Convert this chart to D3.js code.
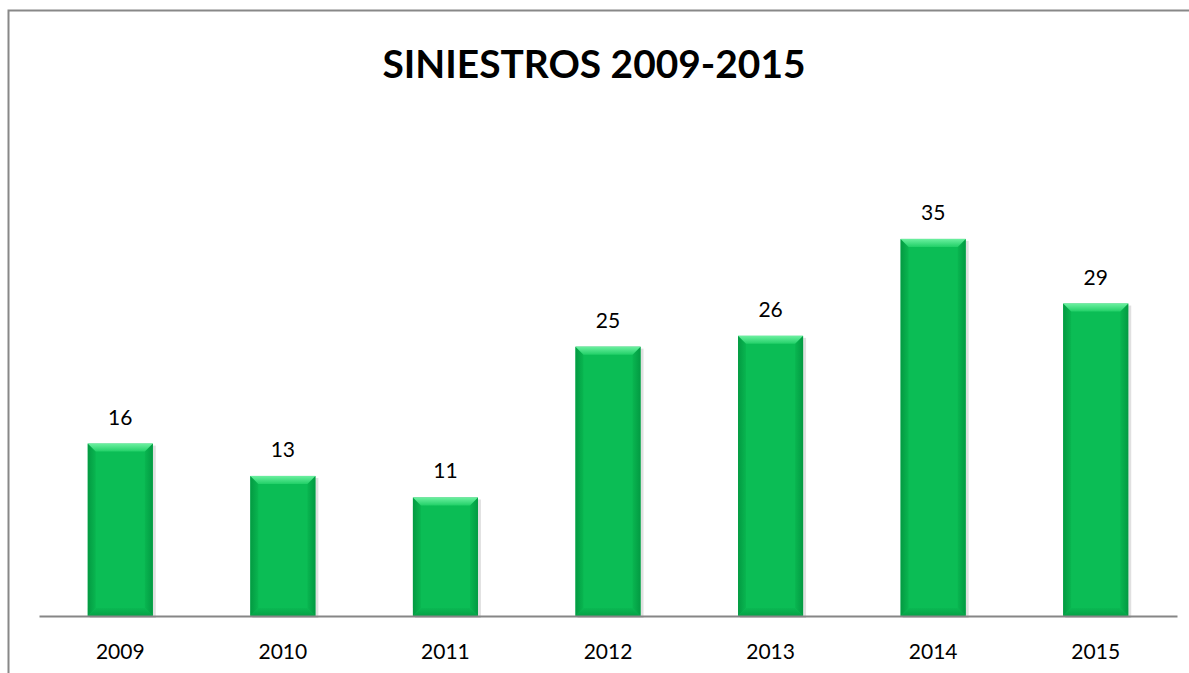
<!DOCTYPE html>
<html>
  <head>
    <meta charset='UTF-8'>
    <style>
    body { margin: 0; background: #fff; overflow: hidden; }
    svg { display: block; }
    text { font-family: Lato, 'Open Sans', sans-serif; fill: #000; }
    </style>
  </head>
  <body>
  <script src='https://cdnjs.cloudflare.com/ajax/libs/d3/7.8.5/d3.min.js'></script>
  <script>

    var years = ['2009', '2010', '2011', '2012', '2013', '2014', '2015'];
    var siniestros = [16, 13, 11, 25, 26, 35, 29];
    var titulo = 'SINIESTROS 2009-2015';

    var W = 1189, H = 673;

    var svg = d3.select('body')
      .append('svg')
      .attr('width', W)
      .attr('height', H);

    var defs = svg.append('defs');

    var gTop = defs.append('linearGradient').attr('id', 'gtop')
      .attr('x1', 0).attr('y1', 0).attr('x2', 0).attr('y2', 1);
    gTop.append('stop').attr('offset', '0%').attr('stop-color', '#6cf0a0');
    gTop.append('stop').attr('offset', '100%').attr('stop-color', '#22d068');

    var gL = defs.append('linearGradient').attr('id', 'gleft')
      .attr('x1', 0).attr('y1', 0).attr('x2', 1).attr('y2', 0);
    gL.append('stop').attr('offset', '0%').attr('stop-color', '#039a42');
    gL.append('stop').attr('offset', '100%').attr('stop-color', '#09b650');

    var gR = defs.append('linearGradient').attr('id', 'gright')
      .attr('x1', 0).attr('y1', 0).attr('x2', 1).attr('y2', 0);
    gR.append('stop').attr('offset', '0%').attr('stop-color', '#09b650');
    gR.append('stop').attr('offset', '100%').attr('stop-color', '#039a42');

    var gB = defs.append('linearGradient').attr('id', 'gbot')
      .attr('x1', 0).attr('y1', 0).attr('x2', 0).attr('y2', 1);
    gB.append('stop').attr('offset', '0%').attr('stop-color', '#0ab852');
    gB.append('stop').attr('offset', '100%').attr('stop-color', '#05a146');

    // outer frame, only left and top edges are visible
    svg.append('path')
      .attr('d', 'M8.5,' + (H + 5) + ' V10.5 H' + (W + 20))
      .attr('fill', 'none')
      .attr('stroke', '#888')
      .attr('stroke-width', 2);

    svg.append('text')
      .attr('x', 594)
      .attr('y', 78)
      .attr('text-anchor', 'middle')
      .attr('font-size', 39)
      .attr('font-weight', 'bold')
      .attr('textLength', 423)
      .attr('lengthAdjust', 'spacingAndGlyphs')
      .text(titulo);

    var x = d3.scaleBand()
      .domain(years)
      .range([39, 1177])
      .paddingInner(0.6)
      .paddingOuter(0.3);

    var y = d3.scaleLinear()
      .domain([0, 40])
      .range([616, 185]);

    var data = years.map(function(d, i) { return { year: d, v: siniestros[i] }; });
    var bw = x.bandwidth();
    var bev = 8;

    var bars = svg.selectAll('g.bar')
      .data(data)
      .enter()
      .append('g')
      .attr('class', 'bar');

    // soft shadow
    bars.append('rect')
      .attr('x', function(d) { return x(d.year) + 2; })
      .attr('y', function(d) { return y(d.v) + 2; })
      .attr('width', bw + 1)
      .attr('height', function(d) { return y(0) - y(d.v); })
      .attr('fill', '#000')
      .attr('opacity', 0.12);

    bars.append('rect')
      .attr('x', function(d) { return x(d.year); })
      .attr('y', function(d) { return y(d.v); })
      .attr('width', bw)
      .attr('height', function(d) { return y(0) - y(d.v); })
      .attr('fill', '#0bbd55');

    // bevel faces
    function poly(pts) { return 'M' + pts.map(function(p) { return p.join(','); }).join('L') + 'Z'; }

    bars.append('path')
      .attr('d', function(d) {
        var x0 = x(d.year), t = y(d.v), b = y(0);
        return poly([[x0, t], [x0 + bev, t + bev], [x0 + bev, b - bev], [x0, b]]);
      })
      .attr('fill', 'url(#gleft)');

    bars.append('path')
      .attr('d', function(d) {
        var x1 = x(d.year) + bw, t = y(d.v), b = y(0);
        return poly([[x1, t], [x1 - bev, t + bev], [x1 - bev, b - bev], [x1, b]]);
      })
      .attr('fill', 'url(#gright)');

    bars.append('path')
      .attr('d', function(d) {
        var x0 = x(d.year), x1 = x0 + bw, b = y(0);
        return poly([[x0, b], [x0 + bev, b - bev], [x1 - bev, b - bev], [x1, b]]);
      })
      .attr('fill', 'url(#gbot)');

    bars.append('path')
      .attr('d', function(d) {
        var x0 = x(d.year), x1 = x0 + bw, t = y(d.v);
        return poly([[x0, t], [x1, t], [x1 - bev, t + bev], [x0 + bev, t + bev]]);
      })
      .attr('fill', 'url(#gtop)');

    bars.append('text')
      .attr('x', function(d) { return x(d.year) + bw / 2; })
      .attr('y', function(d) { return y(d.v) - 19; })
      .attr('text-anchor', 'middle')
      .attr('font-size', 21)
      .text(function(d) { return d.v; });

    // category axis
    var axis = svg.append('g')
      .attr('transform', 'translate(0,' + y(0) + ')')
      .call(d3.axisBottom(x).tickSize(0).tickPadding(0));
    axis.select('.domain')
      .attr('stroke', '#868686')
      .attr('stroke-width', 2);
    axis.selectAll('.tick text')
      .attr('y', 43)
      .attr('dy', 0)
      .attr('font-size', 21)
      .attr('font-family', 'Lato, sans-serif')
      .attr('fill', '#000');

  </script>
  </body>
</html>
